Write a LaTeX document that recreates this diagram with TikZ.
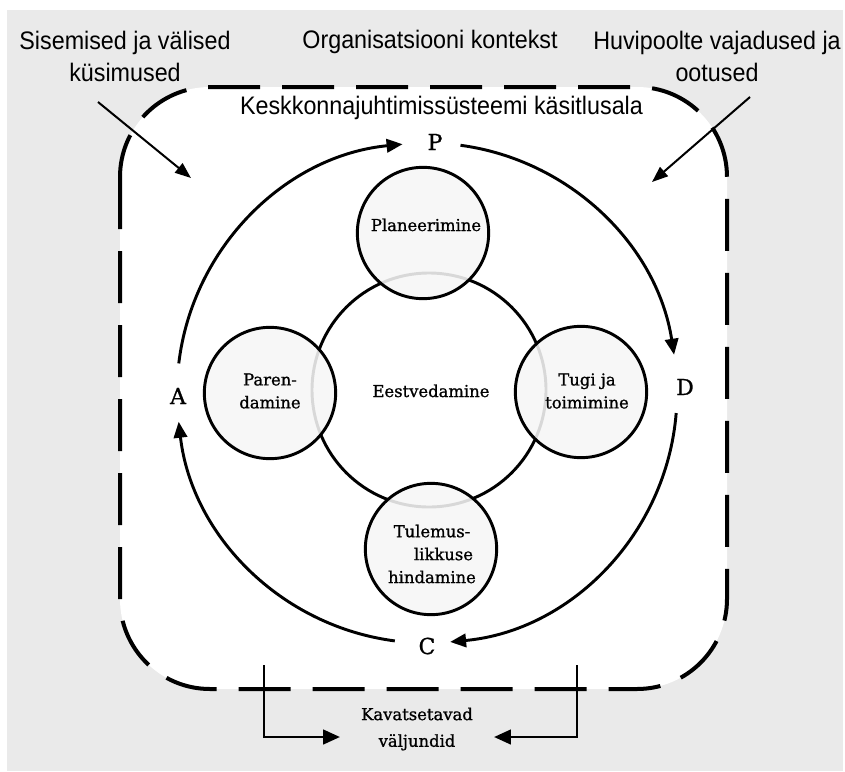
\documentclass[tikz,border=0pt]{standalone}
\usepackage{fontspec}
\setmainfont{DejaVu Serif}
\newfontfamily\innfont[FakeBold=1.0]{DejaVu Serif}
\newfontfamily\labfont[FakeStretch=0.92]{Liberation Sans}
\usetikzlibrary{arrows.meta,calc}
\definecolor{bggray}{HTML}{EAEAEA}
\definecolor{cfill}{HTML}{F6F6F6}
\begin{document}
\begin{tikzpicture}[x=0.75pt,y=-0.75pt,
  outer/.style={font=\labfont\fontsize{19pt}{24pt}\selectfont, align=center, inner sep=0pt},
  inner/.style={font=\innfont\fontsize{12.3pt}{17.2pt}\selectfont, align=center, inner sep=0pt},
  phase/.style={font=\innfont\fontsize{16.5pt}{18pt}\selectfont, inner sep=0pt},
  bigc/.style={circle, draw, line width=2.2pt, minimum size=175.5pt, inner sep=0pt},
  smallc/.style={circle, draw, line width=2.2pt, fill=cfill, fill opacity=0.88, minimum size=98.5pt, inner sep=0pt},
  cyc/.style={line width=2.2pt, -{Triangle[length=12pt,width=10pt]}},
  thinarrow/.style={line width=1.5pt, -{Triangle[length=12pt,width=9pt]}},
  outarrow/.style={line width=1.5pt, -{Triangle[length=12.5pt,width=11pt]}},
  scopebox/.style={line width=3pt, dash pattern=on 39pt off 16.5pt, fill=white, rounded corners=67.5pt},
]
% background
\fill[white] (0,0) rectangle (845,771);
\fill[bggray] (7,10) rectangle (843,771);
\useasboundingbox (0,0) rectangle (845,771);

% scope box
\draw[scopebox] (120,87) rectangle (727,689);

% outer labels
\node[outer] (sis) at (125,56) {Sisemised ja välised\\küsimused};
\node[outer, anchor=base] (org) at (430,48) {Organisatsiooni kontekst};
\node[outer] (huv) at (717,56) {Huvipoolte vajadused ja\\ootused};
\node[outer, anchor=base] (kes) at (441.5,114) {Keskkonnajuhtimissüsteemi käsitlusala};

% diagonal arrows
\coordinate (sisS) at (98,102);
\coordinate (sisE) at (191,178);
\coordinate (huvS) at (750,97);
\coordinate (huvE) at (652,182);
\draw[thinarrow] (sisS) -- (sisE);
\draw[thinarrow] (huvS) -- (huvE);

% central circles
\node[bigc] (lead) at (429,390) {};
\node[smallc] (plan) at (423,233) {};
\node[smallc] (tugi) at (581,392) {};
\node[smallc] (par) at (270,393) {};
\node[smallc] (tul) at (431,549) {};

\node[inner, anchor=base] (leadT) at (431,397) {Eestvedamine};
\node[inner, anchor=base] (planT) at (426,231) {Planeerimine};
\node[inner] (tugiT) at (587,391) {Tugi ja\\toimimine};
\node[inner] (parT) at (270,391) {Paren-\\damine};
\node[inner] (tulT) at (432,554) {Tulemus-\\\hspace*{1.4em}likkuse\\hindamine};

% PDCA labels
\node[phase] (P) at (435,142) {P};
\node[phase] (D) at (685,387) {D};
\node[phase] (C) at (427,646) {C};
\node[phase] (A) at (178,396) {A};

% cycle arcs
\coordinate (ctr) at (427,393);
\draw[cyc] ($(ctr)+(-173.2:250)$) arc[start angle=-173.2, end angle=-95.6, radius=250];
\draw[cyc] ($(ctr)+(-82.3:250)$) arc[start angle=-82.3, end angle=-8.8, radius=250];
\draw[cyc] ($(ctr)+(4.6:250)$) arc[start angle=4.6, end angle=84.7, radius=250];
\draw[cyc] ($(ctr)+(97.4:250)$) arc[start angle=97.4, end angle=173.4, radius=250];

% outputs
\node[inner, font=\innfont\fontsize{12.3pt}{20pt}\selectfont] (out) at (417,729) {Kavatsetavad\\väljundid};
\coordinate (bl) at (264,665);
\coordinate (br) at (577,665);
\draw[outarrow] (bl) |- ($(out.west)+(-21,8)$);
\draw[outarrow] (br) |- ($(out.east)+(21,8)$);
\end{tikzpicture}
\end{document}
